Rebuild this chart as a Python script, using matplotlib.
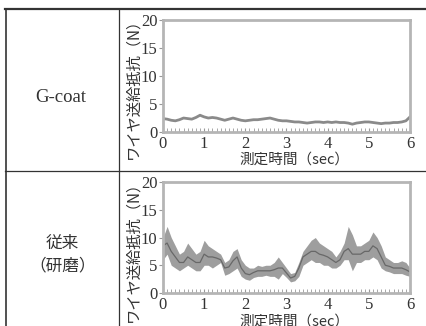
import matplotlib
matplotlib.use('Agg')
from matplotlib import pyplot as plt
from matplotlib import ticker
import numpy as np

# Values (time in sec, force in N).
t = np.round(np.arange(0, 61) * 0.1, 1)

gcoat = [2.4, 2.3, 2.1, 2.0, 2.2, 2.5, 2.4, 2.3, 2.6, 3.0,
         2.7, 2.5, 2.6, 2.5, 2.3, 2.1, 2.3, 2.5, 2.3, 2.1,
         2.0, 2.1, 2.2, 2.2, 2.3, 2.4, 2.5, 2.3, 2.1, 2.0,
         2.0, 1.9, 1.8, 1.8, 1.7, 1.6, 1.7, 1.8, 1.8, 1.7,
         1.8, 1.7, 1.8, 1.7, 1.7, 1.6, 1.4, 1.6, 1.7, 1.8,
         1.8, 1.7, 1.6, 1.5, 1.6, 1.6, 1.7, 1.7, 1.8, 2.0, 2.7]

conv_mid = [8.5, 9.0, 7.5, 6.5, 5.5, 5.5, 6.5, 6.0, 5.5, 5.5,
            7.0, 6.5, 6.5, 6.3, 6.0, 4.5, 4.7, 5.8, 6.5, 4.5,
            3.5, 3.3, 3.7, 4.0, 4.0, 4.0, 4.0, 4.2, 4.5, 4.5,
            3.6, 2.7, 3.0, 4.5, 6.5, 7.0, 7.5, 7.5, 7.0, 6.8,
            6.5, 6.0, 5.5, 6.0, 7.5, 8.0, 7.0, 7.0, 7.0, 7.5,
            7.5, 8.5, 8.0, 6.5, 5.0, 4.8, 4.5, 4.5, 4.5, 4.2, 3.8]
conv_hi = [10.0, 12.0, 10.0, 8.5, 7.0, 7.5, 9.0, 8.0, 7.0, 7.5,
           9.5, 8.5, 8.0, 7.5, 7.0, 5.5, 6.0, 7.5, 8.0, 6.0,
           5.0, 4.5, 4.5, 5.0, 4.8, 5.0, 5.0, 5.5, 6.5, 5.5,
           4.5, 3.5, 3.7, 5.5, 7.5, 8.5, 9.5, 10.0, 9.0, 8.5,
           8.0, 7.5, 6.5, 7.5, 9.0, 12.0, 10.5, 8.5, 8.5, 9.0,
           9.5, 11.0, 10.0, 8.5, 6.5, 6.0, 5.5, 5.5, 5.8, 5.5, 4.5]
conv_lo = [6.0, 7.0, 5.0, 4.5, 4.0, 4.5, 5.0, 4.5, 4.0, 4.0,
           5.0, 5.0, 4.5, 5.0, 5.5, 3.2, 3.5, 4.0, 4.5, 3.0,
           2.5, 2.3, 2.8, 3.0, 3.0, 3.2, 3.0, 3.0, 2.5, 3.5,
           2.8, 2.0, 2.2, 3.0, 5.0, 5.5, 6.0, 5.5, 5.5, 5.0,
           5.0, 4.5, 4.5, 5.0, 6.0, 6.0, 4.0, 5.5, 5.5, 6.0,
           6.0, 6.5, 6.0, 4.5, 4.0, 3.8, 3.5, 3.5, 3.5, 3.2, 3.0]

x_ticks = [0, 1, 2, 3, 4, 5, 6]
y_ticks = [0, 5, 10, 15, 20]
row_labels = ['G-coat', '従来', '（研磨）']
ylabel = 'ワイヤ送給抵抗（N）'
xlabel = '測定時間（sec）'

serif = ['Liberation Serif', 'Noto Sans CJK JP']
jp = ['Noto Sans CJK JP', 'DejaVu Sans']

fig = plt.figure(figsize=(4.27, 3.26), dpi=100)

# table frame
line_kw = dict(color='#333333', transform=fig.transFigure)
fig.add_artist(plt.Line2D([0.012, 1.0], [0.972, 0.972], lw=1.6, **line_kw))
fig.add_artist(plt.Line2D([0.014, 0.014], [0.0, 0.972], lw=1.2, **line_kw))
fig.add_artist(plt.Line2D([0.2787, 0.2787], [0.0, 0.972], lw=0.9, **line_kw))
fig.add_artist(plt.Line2D([0.012, 1.0], [0.4755, 0.4755], lw=0.9, **line_kw))

fig.text(0.143, 0.70, row_labels[0], ha='center', va='center',
         fontsize=13.5, family=serif, color='#333333')
fig.text(0.147, 0.254, row_labels[1], ha='center', va='center',
         fontsize=12, family=jp, color='#333333')
fig.text(0.147, 0.184, row_labels[2], ha='center', va='center',
         fontsize=12, family=jp, color='#333333')

ax1 = fig.add_axes([0.3817, 0.595, 0.5785, 0.3436])
ax2 = fig.add_axes([0.3817, 0.1012, 0.5785, 0.3405])

ax1.plot(t, gcoat, color='#8a8a8a', lw=2.0)
ax2.fill_between(t, conv_lo, conv_hi, color='#9e9e9e', lw=0)
ax2.plot(t, conv_mid, color='#686868', lw=0.9)

for ax, yc, xc in [(ax1, 0.74, 0.51), (ax2, 0.24, 0.012)]:
    ax.set_xlim(0, 6)
    ax.set_ylim(0, 20)
    ax.set_xticks(x_ticks)
    ax.set_yticks(y_ticks)
    ax.xaxis.set_minor_locator(ticker.MultipleLocator(0.1))
    for s in ax.spines.values():
        s.set_color('#b5b5b5')
        s.set_linewidth(2)
    ax.tick_params(axis='x', which='both', direction='in', length=3,
                   color='#999999', pad=3)
    ax.tick_params(axis='y', which='major', direction='out', length=3,
                   color='#999999', pad=1)
    ax.tick_params(labelsize=12, labelcolor='#333333')
    for lab in ax.get_xticklabels() + ax.get_yticklabels():
        lab.set_family(serif)
    fig.text(0.312, yc, ylabel, rotation=90, ha='center', va='center',
             fontsize=11, family=jp, color='#333333')
    fig.text(0.69, xc, xlabel, ha='center', va='center',
             fontsize=10.5, family=jp, color='#333333')

fig.savefig('out.png', dpi=100)
